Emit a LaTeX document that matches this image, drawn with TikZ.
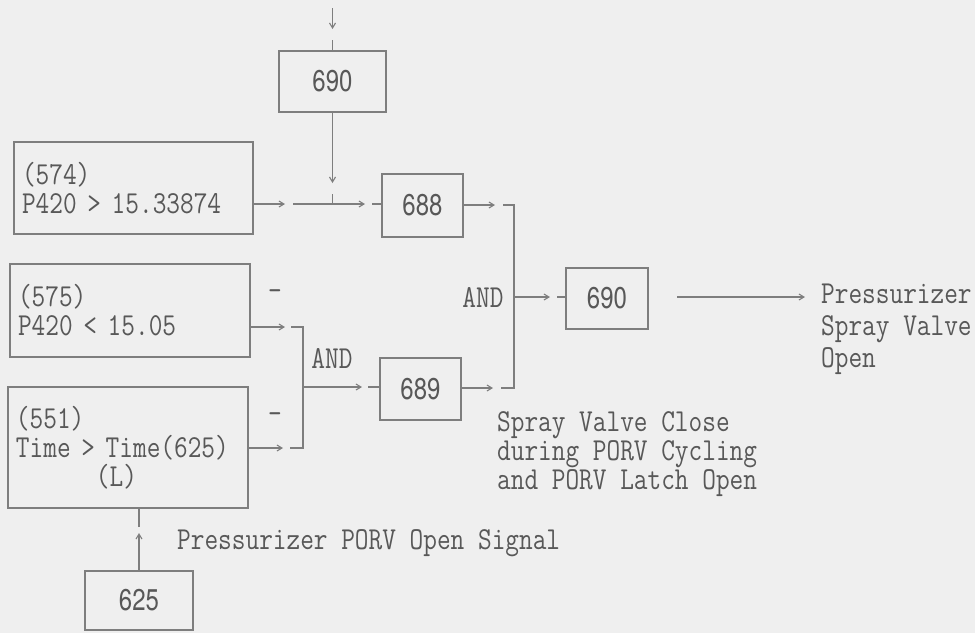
\documentclass[tikz,border=0pt]{standalone}
\usepackage{fontspec}
\usetikzlibrary{arrows.meta}
\newfontfamily\twfont[FakeStretch=0.83]{Latin Modern Mono}
\newfontfamily\numfont[FakeStretch=0.8]{TeX Gyre Heros}
\definecolor{ink}{HTML}{585858}
\definecolor{wire}{HTML}{7E7E7E}
\definecolor{paper}{HTML}{EFEFEF}
\begin{document}
\begin{tikzpicture}[x=1pt,y=-1pt,
  tw/.style={font=\twfont\fontsize{32}{29}\selectfont, text=ink},
  numbox/.style={draw=wire, line width=1.1pt, inner sep=0pt, font=\numfont\fontsize{30}{30}\selectfont, text=ink},
  condbox/.style={draw=wire, line width=1.1pt, inner xsep=8pt, inner ysep=0pt, align=left, tw},
  wireline/.style={draw=wire, line width=1.1pt},
  arr/.style={wireline, -{Straight Barb[length=5pt,width=6pt]}},
  lbl/.style={tw, inner sep=0pt},
]
\fill[paper] (0,0) rectangle (975,633);
\useasboundingbox (0,0) rectangle (975,633);

% boxes
\node[numbox, minimum width=107pt, minimum height=61pt] (b690a) at (332.5,81.5) {690};
\node[numbox, minimum width=81pt, minimum height=63pt] (b688) at (422.5,205.5) {688};
\node[numbox, minimum width=82pt, minimum height=61pt] (b690b) at (607,298.5) {690};
\node[numbox, minimum width=81pt, minimum height=62pt] (b689) at (420.5,389) {689};
\node[numbox, minimum width=108pt, minimum height=59pt] (b625) at (139,600.5) {625};

\node[condbox, text width=223pt, minimum width=239pt, minimum height=92pt] (b574) at (133.5,188)
  {(574)\\P420 > 15.33874};
\node[condbox, text width=224pt, minimum width=240pt, minimum height=93pt] (b575) at (130,310.5)
  {(575)\\P420 < 15.05};
\node[condbox, text width=224pt, minimum width=240pt, minimum height=121pt] (b551) at (128,447.5)
  {(551)\\Time > Time(625)\\\hspace*{80pt}(L)};

% labels
\node[lbl] (and1) at (332,358) {AND};
\node[lbl] (and2) at (483,297) {AND};
\node[lbl] (m1) at (275,295) {-};
\node[lbl] (m2) at (275,418) {-};
\node[lbl, anchor=west, align=left, font=\twfont\fontsize{32}{32}\selectfont] (outtxt) at (821,329)
  {Pressurizer\\Spray Valve\\Open};
\node[lbl, anchor=west, align=left] (svc) at (497,454)
  {Spray Valve Close\\during PORV Cycling\\and PORV Latch Open};
\node[lbl, anchor=west] (porv) at (177,543) {Pressurizer PORV Open Signal};

% coordinates
\coordinate (topin) at (332.5,8);
\coordinate (topgap) at (332.5,29);
\coordinate (topstub) at (332.5,40);
\coordinate (v1) at (332.5,183);
\coordinate (v2) at (332.5,194);
\coordinate (j1) at (332.5,204);
\coordinate (h1) at (285,204);
\coordinate (h2) at (293,204);
\coordinate (h3) at (365,204);
\coordinate (h4) at (372,204);
\coordinate (brT) at (514,205);
\coordinate (brB) at (514,388);
\coordinate (brM) at (514,297);
\coordinate (p1) at (495,205);
\coordinate (p2) at (503,205);
\coordinate (q1) at (493,388);
\coordinate (q2) at (501,388);
\coordinate (r1) at (550,297);
\coordinate (r2) at (557,297);
\coordinate (o1) at (677,297);
\coordinate (o2) at (805,297);
\coordinate (cT) at (303,327);
\coordinate (cB) at (303,448);
\coordinate (cM) at (303,387);
\coordinate (s1) at (285,327);
\coordinate (s2) at (291,327);
\coordinate (t1) at (283,448);
\coordinate (t2) at (290,448);
\coordinate (u1) at (362,387);
\coordinate (u2) at (368,387);
\coordinate (w1) at (139,533);
\coordinate (w2) at (139,527);

% connectors
\draw[arr] (topin) -- (topgap);
\draw[wireline] (topstub) -- (b690a.north);
\draw[arr] (b690a.south) -- (v1);
\draw[wireline] (v2) -- (j1);
\draw[arr] (b574.east |- j1) -- (h1);
\draw[arr] (h2) -- (h3);
\draw[wireline] (h4) -- (b688.west |- j1);

\draw[arr] (b688.east |- brT) -- (p1);
\draw[wireline] (p2) -- (brT) -- (brB) -- (q2);
\draw[arr] (b689.east |- brB) -- (q1);
\draw[arr] (brM) -- (r1);
\draw[wireline] (r2) -- (b690b.west |- brM);
\draw[arr] (o1) -- (o2);

\draw[arr] (b575.east |- cT) -- (s1);
\draw[wireline] (s2) -- (cT) -- (cB) -- (t2);
\draw[arr] (b551.east |- cB) -- (t1);
\draw[arr] (cM) -- (u1);
\draw[wireline] (u2) -- (b689.west |- cM);

\draw[arr] (b625.north) -- (w1);
\draw[wireline] (w2) -- (b625.north |- b551.south);
\end{tikzpicture}
\end{document}
